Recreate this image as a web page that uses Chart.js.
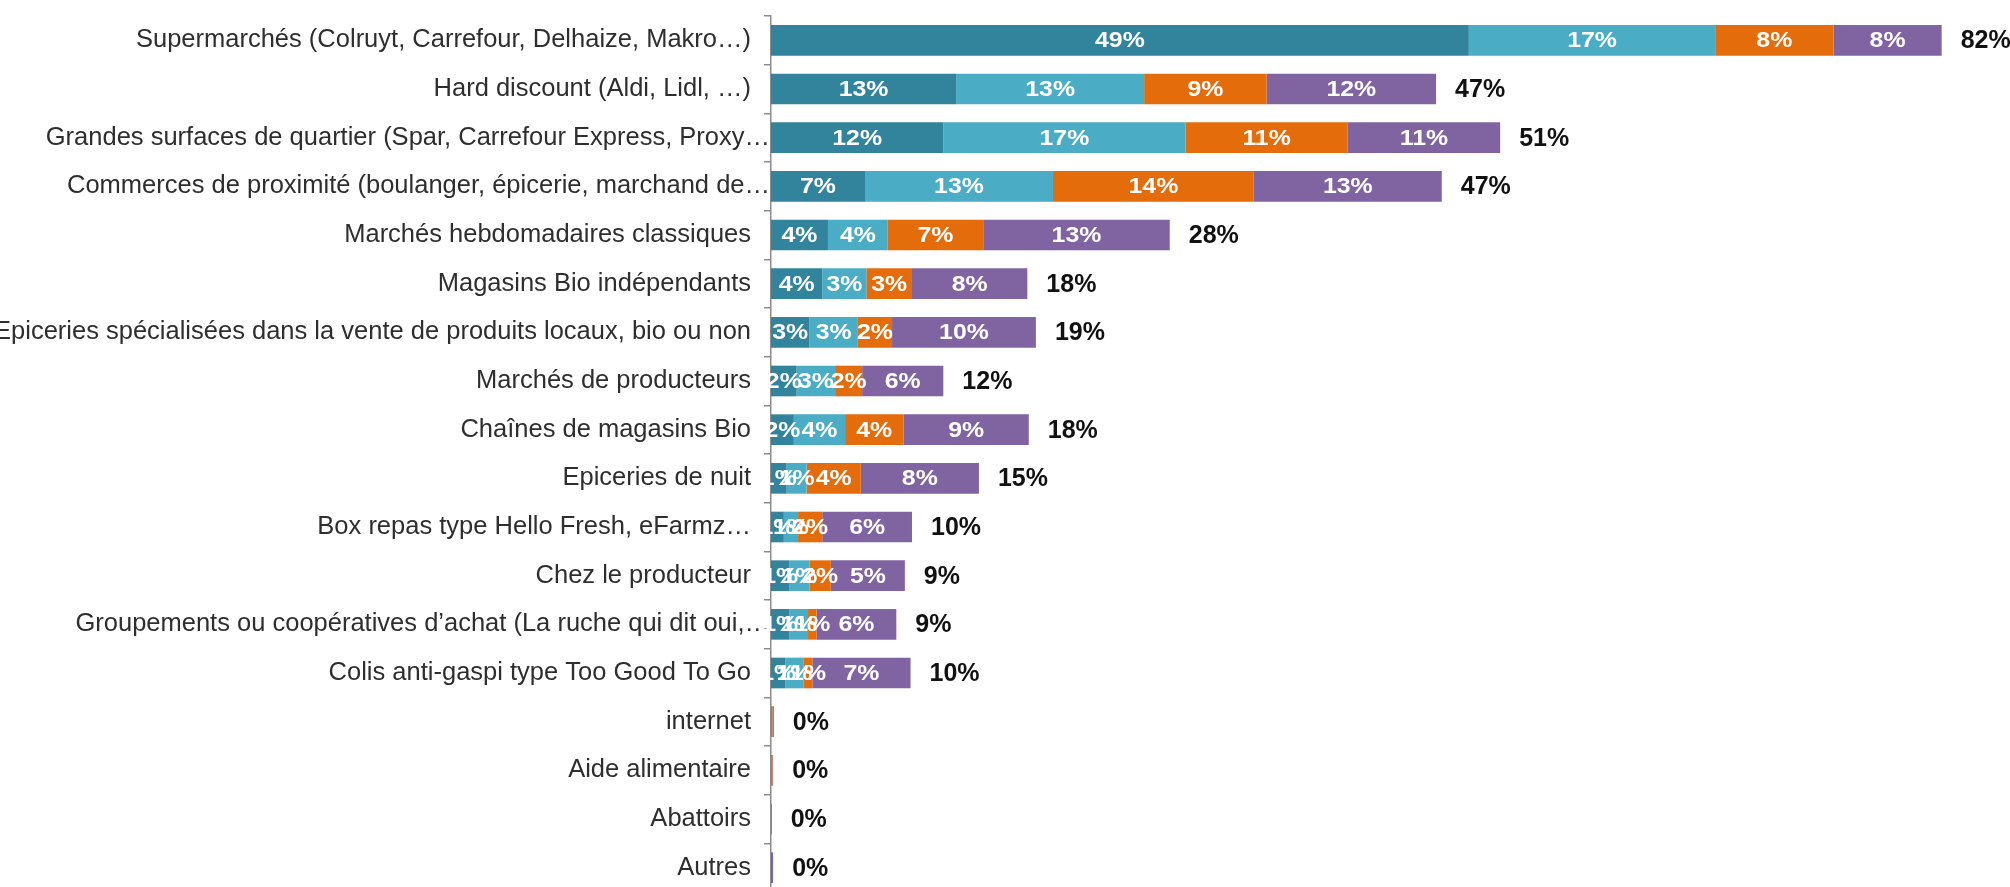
<!DOCTYPE html>
<html>
<head>
<meta charset="utf-8">
<script src="https://cdn.jsdelivr.net/npm/chart.js@4.4.1/dist/chart.umd.min.js"></script>
<style>
  html, body { margin: 0; padding: 0; background: #fff; overflow: hidden; }
  #wrap { width: 2010px; height: 887px; overflow: hidden; }
</style>
</head>
<body>
<div id="wrap"><canvas id="lieuxChart" width="2010" height="892"></canvas></div>
<script>
const categories = [
  'Supermarchés (Colruyt, Carrefour, Delhaize, Makro…)',
  'Hard discount (Aldi, Lidl, …)',
  'Grandes surfaces de quartier (Spar, Carrefour Express, Proxy…',
  'Commerces de proximité (boulanger, épicerie, marchand de…',
  'Marchés hebdomadaires classiques',
  'Magasins Bio indépendants',
  'Epiceries spécialisées dans la vente de produits locaux, bio ou non',
  'Marchés de producteurs',
  'Chaînes de magasins Bio',
  'Epiceries de nuit',
  'Box repas type Hello Fresh, eFarmz…',
  'Chez le producteur',
  'Groupements ou coopératives d’achat (La ruche qui dit oui,…',
  'Colis anti-gaspi type Too Good To Go',
  'internet',
  'Aide alimentaire',
  'Abattoirs',
  'Autres'
];

// labels cut off by the source tool (they run up to the axis)
const cutLabels = [2, 3, 12];

const serie1 = [49.0, 13.0, 12.1, 6.6, 4.0, 3.6, 2.7, 1.8, 1.6, 1.1, 0.9, 1.3, 1.3, 1.0, 0, 0, 0.05, 0];
const serie2 = [17.3, 13.2, 17.0, 13.2, 4.2, 3.1, 3.4, 2.7, 3.6, 1.4, 1.0, 1.4, 1.3, 1.3, 0, 0, 0, 0];
const serie3 = [8.3, 8.6, 11.4, 14.1, 6.7, 3.2, 2.4, 1.9, 4.1, 3.8, 1.7, 1.5, 0.6, 0.6, 0.1, 0.1, 0, 0];
const serie4 = [7.6, 11.9, 10.7, 13.2, 13.1, 8.1, 10.1, 5.7, 8.8, 8.3, 6.3, 5.2, 5.6, 6.9, 0.1, 0.05, 0, 0.15];

const colors = ['#31849B', '#4BACC6', '#E46C0A', '#8064A2'];
const fontFam = '"Liberation Sans", Arial, sans-serif';

const labelPlugin = {
  id: 'barLabels',
  afterDraw(chart) {
    const ctx = chart.ctx;
    const yScale = chart.scales.y;
    const left = chart.chartArea.left;
    ctx.save();

    // category names
    ctx.font = '25.5px ' + fontFam;
    ctx.fillStyle = '#2e2e2e';
    ctx.textAlign = 'right';
    ctx.textBaseline = 'middle';
    categories.forEach((c, i) => {
      const y = yScale.getPixelForValue(i);
      const x = cutLabels.includes(i) ? left - 1 : left - 20;
      ctx.fillText(c, x, y);
    });

    // segment values (slightly stretched like the source)
    ctx.font = 'bold 22px ' + fontFam;
    ctx.fillStyle = '#ffffff';
    ctx.textAlign = 'center';
    chart.data.datasets.forEach((ds, di) => {
      const meta = chart.getDatasetMeta(di);
      meta.data.forEach((bar, i) => {
        const v = Math.round(ds.data[i]);
        if (v < 1) return;
        ctx.save();
        ctx.translate((bar.x + bar.base) / 2, bar.y + 1);
        ctx.scale(1.13, 1);
        ctx.fillText(v + '%', 0, 0);
        ctx.restore();
      });
    });

    // totals
    ctx.font = 'bold 25px ' + fontFam;
    ctx.fillStyle = '#111';
    ctx.textAlign = 'left';
    const last = chart.getDatasetMeta(chart.data.datasets.length - 1);
    categories.forEach((c, i) => {
      let total = 0;
      chart.data.datasets.forEach(ds => { total += ds.data[i]; });
      const end = Math.max(last.data[i].x, left);
      ctx.fillText(Math.round(total) + '%', end + 19, yScale.getPixelForValue(i) + 1);
    });
    ctx.restore();
  }
};

const ctx = document.getElementById('lieuxChart').getContext('2d');
new Chart(ctx, {
  type: 'bar',
  data: {
    labels: categories,
    datasets: [serie1, serie2, serie3, serie4].map((d, k) => ({
      label: 'Série ' + (k + 1),
      data: d,
      backgroundColor: colors[k],
      borderWidth: 0,
      barPercentage: 0.63,
      categoryPercentage: 1
    }))
  },
  options: {
    indexAxis: 'y',
    responsive: false,
    animation: false,
    devicePixelRatio: 1,
    layout: { padding: { top: 16, right: 0, bottom: 0, left: 0 } },
    plugins: {
      legend: { display: false },
      tooltip: { enabled: false }
    },
    scales: {
      x: {
        stacked: true,
        display: false,
        min: 0,
        max: 87
      },
      y: {
        stacked: true,
        afterFit: s => { s.width = 771; },
        ticks: { display: false },
        grid: {
          display: true,
          offset: true,
          drawOnChartArea: false,
          drawTicks: true,
          tickLength: 7,
          color: '#8c8c8c',
          lineWidth: 1.5
        },
        border: { display: true, color: '#8c8c8c', width: 1.5 }
      }
    }
  },
  plugins: [labelPlugin]
});
</script>
</body>
</html>
